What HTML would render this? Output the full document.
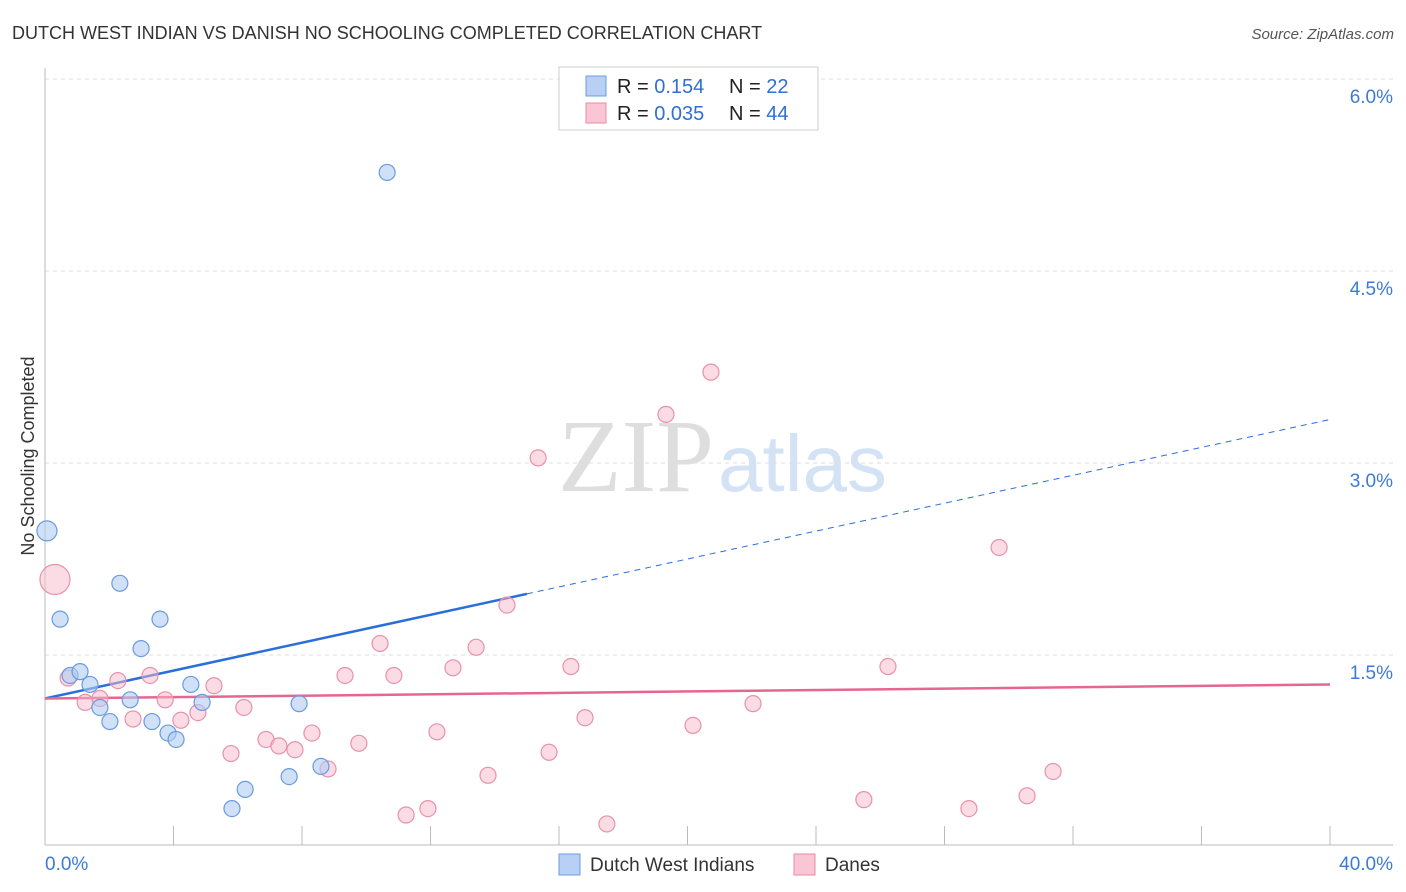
<!DOCTYPE html>
<html><head><meta charset="utf-8"><style>
body{margin:0;background:#fff;font-family:"Liberation Sans",sans-serif;}
#c{position:absolute;left:0;top:0;}
</style></head><body>
<svg id="c" width="1406" height="892" xmlns="http://www.w3.org/2000/svg">
<text x="12" y="39" font-size="18" fill="#333">DUTCH WEST INDIAN VS DANISH NO SCHOOLING COMPLETED CORRELATION CHART</text>
<text x="1394" y="39" font-size="15" fill="#555" font-style="italic" text-anchor="end">Source: ZipAtlas.com</text>
<text x="714" y="491" font-size="104" fill="#dedede" text-anchor="end" font-family="Liberation Serif,serif">ZIP</text>
<text x="718" y="491" font-size="80" fill="#d3e2f5">atlas</text>
<text transform="translate(34,456) rotate(-90)" font-size="18" fill="#333" text-anchor="middle">No Schooling Completed</text>
<g id="grid"></g><g id="lines"></g><g id="pts"></g>
<g>
<rect x="559" y="67" width="259" height="63" fill="#fff" stroke="#ccc"/>
<rect x="586" y="76" width="20" height="20" fill="#b7d0f3" stroke="#6d9de0"/>
<rect x="586" y="103" width="20" height="20" fill="#f9c6d4" stroke="#e88aa8"/>
<text x="617" y="93" font-size="20" fill="#222">R = <tspan fill="#2f6fd6"> 0.154</tspan></text>
<text x="729" y="93" font-size="20" fill="#222">N = <tspan fill="#2f6fd6"> 22</tspan></text>
<text x="617" y="120" font-size="20" fill="#222">R = <tspan fill="#2f6fd6">0.035</tspan></text>
<text x="729" y="120" font-size="20" fill="#222">N = <tspan fill="#2f6fd6">44</tspan></text>
</g>
<g>
<rect x="559" y="854" width="21" height="21" fill="#b7d0f3" stroke="#6d9de0"/>
<text x="590" y="871" font-size="19" fill="#333">Dutch West Indians</text>
<rect x="794" y="854" width="21" height="21" fill="#f9c6d4" stroke="#e88aa8"/>
<text x="825" y="871" font-size="19" fill="#333">Danes</text>
</g>
</svg>
<script>
const xTicks=[0,4,8,12,16,20,24,28,32,36,40];
const yTicks=[1.5,3.0,4.5,6.0];
const yTickLabels=["1.5%","3.0%","4.5%","6.0%"];
const xEndLabels=["0.0%","40.0%"];
const blueX=[0.06,0.47,0.78,1.09,1.40,1.71,2.02,2.33,2.65,2.99,3.33,3.58,3.83,4.08,4.54,4.89,5.82,6.23,7.60,7.91,8.59,10.65];
const blueY=[2.47,1.78,1.34,1.37,1.27,1.09,0.98,2.06,1.15,1.55,0.98,1.78,0.89,0.84,1.27,1.13,0.30,0.45,0.55,1.12,0.63,5.27];
const pinkX=[0.31,0.72,1.25,1.71,2.27,2.74,3.27,3.74,4.23,4.76,5.26,5.79,6.19,6.88,7.28,7.78,8.31,8.81,9.34,9.77,10.43,10.86,11.24,11.92,12.20,12.70,13.42,13.79,14.38,15.35,15.69,16.37,16.81,17.49,19.33,20.17,20.73,22.04,25.49,26.24,28.76,29.70,30.57,31.38];
const pinkY=[2.09,1.32,1.13,1.16,1.30,1.00,1.34,1.15,0.99,1.05,1.26,0.73,1.09,0.84,0.79,0.76,0.89,0.61,1.34,0.81,1.59,1.34,0.25,0.30,0.90,1.40,1.56,0.56,1.89,3.04,0.74,1.41,1.01,0.18,3.38,0.95,3.71,1.12,0.37,1.41,0.30,2.34,0.40,0.59];
const blueTrend=[1.16,0.0545]; // intercept, slope
const pinkTrend=[1.16,0.00275];
const sx=v=>45+v*(1285/40), sy=v=>847-v*128;
const NS="http://www.w3.org/2000/svg";
function mk(t,a,p){const e=document.createElementNS(NS,t);for(const k in a)e.setAttribute(k,a[k]);p.appendChild(e);return e;}
const grid=document.getElementById('grid'),lines=document.getElementById('lines'),pts=document.getElementById('pts');
yTicks.forEach((v,i)=>{
 const l=mk('line',{x1:45,x2:1393,y1:sy(v),y2:sy(v),stroke:'#ddd','stroke-dasharray':'4,4'},grid);
 
 
 const t=mk('text',{x:1393,y:sy(v)+24,'font-size':19,fill:'#3d7ad8','text-anchor':'end'},grid);t.textContent=yTickLabels[i];
 
 
});
mk('line',{x1:45,x2:45,y1:68,y2:845,stroke:'#bbb'},grid);
const xa=mk('line',{x1:45,x2:1393,y1:845,y2:845,stroke:'#bbb'},grid);


xTicks.forEach(v=>{const t=mk('line',{x1:sx(v),x2:sx(v),y1:826,y2:845,stroke:'#bbb'},grid);
 
 });
const t0=mk('text',{x:45,y:870,'font-size':19,fill:'#3d7ad8'},grid);t0.textContent=xEndLabels[0];


const t1=mk('text',{x:1393,y:870,'font-size':19,fill:'#3d7ad8','text-anchor':'end'},grid);t1.textContent=xEndLabels[1];


const bf=x=>blueTrend[0]+blueTrend[1]*x, pf=x=>pinkTrend[0]+pinkTrend[1]*x;
const b1=mk('line',{x1:sx(0),y1:sy(bf(0)),x2:sx(15),y2:sy(bf(15)),stroke:'#2a6fd8','stroke-width':2.5},lines);


const b2=mk('line',{x1:sx(15),y1:sy(bf(15)),x2:sx(40),y2:sy(bf(40)),stroke:'#2a6fd8','stroke-width':1,'stroke-dasharray':'6,5'},lines);


const p1=mk('line',{x1:sx(0),y1:sy(pf(0)),x2:sx(40),y2:sy(pf(40)),stroke:'#e6668f','stroke-width':2.5},lines);


pinkX.forEach((x,i)=>{const c=mk('circle',{cx:sx(x),cy:sy(pinkY[i]),r:i===0?15:8,fill:'rgba(247,185,204,0.5)',stroke:'#e891ac','stroke-width':1.2},pts);
 
 });
blueX.forEach((x,i)=>{const c=mk('circle',{cx:sx(x),cy:sy(blueY[i]),r:i===0?10:8,fill:'rgba(175,204,242,0.6)',stroke:'#6a9be0','stroke-width':1.2},pts);
 
 });
</script>
</body></html>
